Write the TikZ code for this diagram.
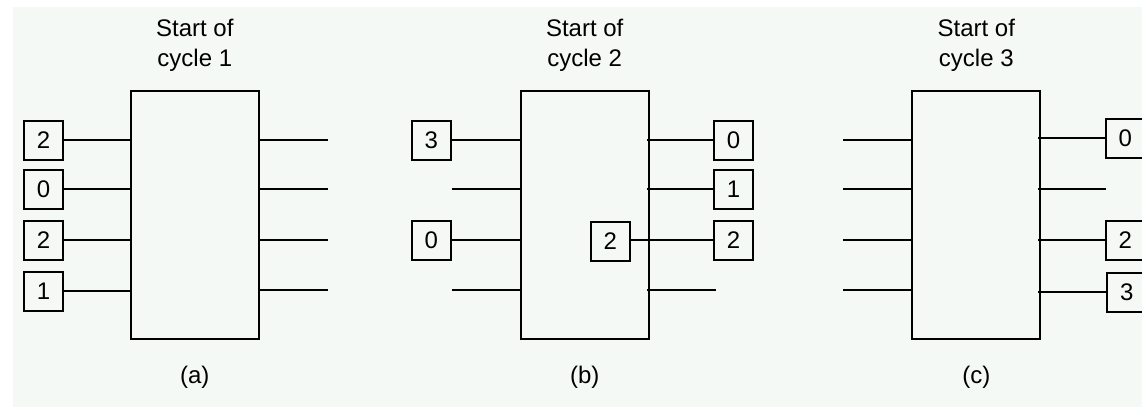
\documentclass[tikz,border=0pt]{standalone}
\usepackage{fontspec}
\setmainfont{Liberation Sans}
\definecolor{bgc}{RGB}{245,249,246}
\begin{document}
\begin{tikzpicture}[x=1pt,y=-1pt,
  bigbox/.style={draw,line width=2pt,minimum width=128pt,minimum height=248pt,inner sep=0pt},
  numbox/.style={draw,line width=2pt,minimum size=39pt,inner sep=0pt,font=\fontsize{24}{28}\selectfont},
  wire/.style={line width=2pt},
  lbl/.style={anchor=base,inner sep=0pt,font=\fontsize{24}{28}\selectfont}]
\useasboundingbox (0,0) rectangle (1142,407);
\clip (0,0) rectangle (1142,407);
\fill[white] (0,0) rectangle (1142,407);
\fill[bgc] (13,7) rectangle (1142,407);

% ---------- (a)
\node[bigbox] (A) at (194.8,215) {};
\node[lbl] (ta1) at (194.8,36) {Start of};
\node[lbl] (ta2) at (194.8,66.5) {cycle 1};
\node[lbl] (la) at (194.8,383) {(a)};
\node[numbox] (a1) at (43.5,140) {2};
\node[numbox] (a2) at (43.5,189) {0};
\node[numbox] (a3) at (43.5,240) {2};
\node[numbox] (a4) at (43.5,291) {1};
\foreach \i in {1,...,4} \draw[wire] (a\i.east) -- (a\i.east -| A.west);
\coordinate (ar1) at (328,140);
\coordinate (ar2) at (328,189);
\coordinate (ar3) at (328,240);
\coordinate (ar4) at (328,290);
\foreach \i in {1,...,4} \draw[wire] (ar\i -| A.east) -- (ar\i);

% ---------- (b)
\node[bigbox] (B) at (584.7,215) {};
\node[lbl] (tb1) at (584.7,36) {Start of};
\node[lbl] (tb2) at (584.7,66.5) {cycle 2};
\node[lbl] (lb) at (584.7,383) {(b)};
\node[numbox] (b1) at (431.2,140) {3};
\coordinate (bl2) at (451.7,189);
\node[numbox] (b3) at (431.2,240) {0};
\coordinate (bl4) at (451.7,290);
\draw[wire] (b1.east) -- (b1.east -| B.west);
\draw[wire] (bl2) -- (bl2 -| B.west);
\draw[wire] (b3.east) -- (b3.east -| B.west);
\draw[wire] (bl4) -- (bl4 -| B.west);
\node[numbox] (br1) at (733.5,140) {0};
\node[numbox] (br2) at (733.5,189) {1};
\node[numbox] (br3) at (733.5,240) {2};
\coordinate (br4) at (715.7,290);
\node[numbox] (bin) at (610.2,241) {2};
\draw[wire] ([xshift=-3pt]br1.west -| B.east) -- (br1.west);
\draw[wire] ([xshift=-3pt]br2.west -| B.east) -- (br2.west);
\draw[wire] (bin.east |- br3.west) -- (br3.west);
\draw[wire] ([xshift=-3pt]br4 -| B.east) -- (br4);

% ---------- (c)
\node[bigbox] (C) at (976.3,215) {};
\node[lbl] (tc1) at (976.3,36) {Start of};
\node[lbl] (tc2) at (976.3,66.5) {cycle 3};
\node[lbl] (lc) at (976.3,383) {(c)};
\coordinate (cl1) at (843.3,140);
\coordinate (cl2) at (843.3,189);
\coordinate (cl3) at (843.3,240);
\coordinate (cl4) at (843.3,290);
\foreach \i in {1,...,4} \draw[wire] (cl\i) -- (cl\i -| C.west);
\node[numbox] (cr1) at (1125.2,138) {0};
\coordinate (cr2) at (1105.7,189);
\node[numbox] (cr3) at (1125.2,240) {2};
\node[numbox] (cr4) at (1126.7,292) {3};
\draw[wire] ([xshift=-3pt]cr1.west -| C.east) -- (cr1.west);
\draw[wire] ([xshift=-3pt]cr2 -| C.east) -- (cr2);
\draw[wire] ([xshift=-3pt]cr3.west -| C.east) -- (cr3.west);
\draw[wire] ([xshift=-3pt]cr4.west -| C.east) -- (cr4.west);
\end{tikzpicture}
\end{document}
